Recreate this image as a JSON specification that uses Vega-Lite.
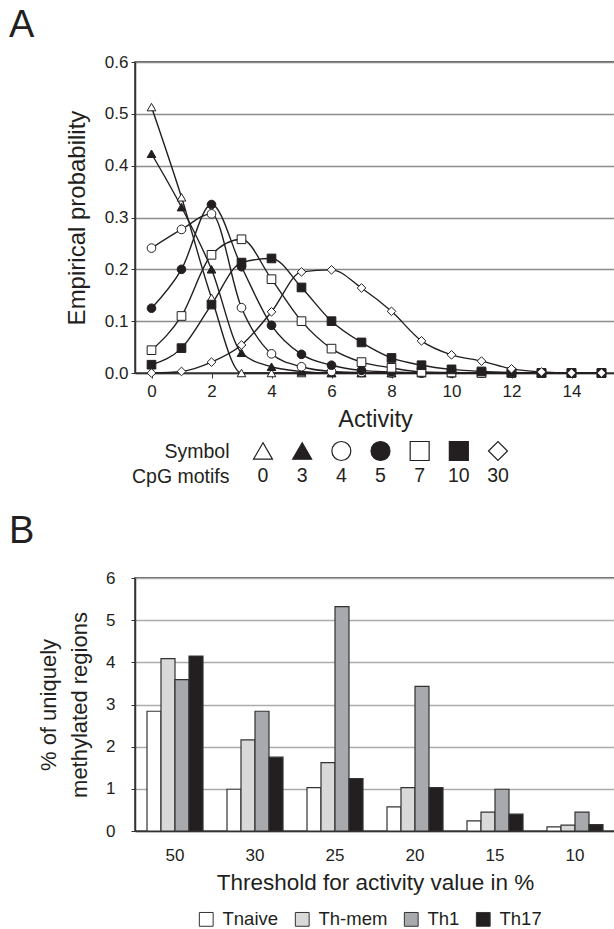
{
  "$schema": "https://vega.github.io/schema/vega-lite/v6.json",
  "padding": {"left": 8, "top": 6, "right": 0, "bottom": 0},
  "spacing": 5,
  "background": "white",
  "config": {
    "font": "Liberation Sans",
    "view": {"stroke": "#333333", "strokeWidth": 1.5},
    "axis": {
      "labelFont": "Liberation Sans",
      "titleFont": "Liberation Sans",
      "labelColor": "#231f20",
      "titleColor": "#231f20",
      "titleFontWeight": "normal",
      "domainColor": "#333333",
      "tickColor": "#333333",
      "domainWidth": 1.5
    },
    "title": {"font": "Liberation Sans", "fontWeight": "normal", "color": "#231f20"},
    "legend": {"labelFont": "Liberation Sans", "labelColor": "#231f20"}
  },
  "datasets": {
    "probs": [
      {"cpg": "0", "activity": 0, "p": 0.513}, {"cpg": "0", "activity": 1, "p": 0.339}, {"cpg": "0", "activity": 2, "p": 0.145}, {"cpg": "0", "activity": 3, "p": 0}, {"cpg": "0", "activity": 4, "p": 0}, {"cpg": "0", "activity": 5, "p": 0}, {"cpg": "0", "activity": 6, "p": 0}, {"cpg": "0", "activity": 7, "p": 0}, {"cpg": "0", "activity": 8, "p": 0}, {"cpg": "0", "activity": 9, "p": 0}, {"cpg": "0", "activity": 10, "p": 0}, {"cpg": "0", "activity": 11, "p": 0}, {"cpg": "0", "activity": 12, "p": 0}, {"cpg": "0", "activity": 13, "p": 0}, {"cpg": "0", "activity": 14, "p": 0}, {"cpg": "0", "activity": 15, "p": 0},
      {"cpg": "3", "activity": 0, "p": 0.423}, {"cpg": "3", "activity": 1, "p": 0.32}, {"cpg": "3", "activity": 2, "p": 0.2}, {"cpg": "3", "activity": 3, "p": 0.039}, {"cpg": "3", "activity": 4, "p": 0.012}, {"cpg": "3", "activity": 5, "p": 0.003}, {"cpg": "3", "activity": 6, "p": 0}, {"cpg": "3", "activity": 7, "p": 0}, {"cpg": "3", "activity": 8, "p": 0}, {"cpg": "3", "activity": 9, "p": 0}, {"cpg": "3", "activity": 10, "p": 0}, {"cpg": "3", "activity": 11, "p": 0}, {"cpg": "3", "activity": 12, "p": 0}, {"cpg": "3", "activity": 13, "p": 0}, {"cpg": "3", "activity": 14, "p": 0}, {"cpg": "3", "activity": 15, "p": 0},
      {"cpg": "4", "activity": 0, "p": 0.241}, {"cpg": "4", "activity": 1, "p": 0.277}, {"cpg": "4", "activity": 2, "p": 0.307}, {"cpg": "4", "activity": 3, "p": 0.126}, {"cpg": "4", "activity": 4, "p": 0.037}, {"cpg": "4", "activity": 5, "p": 0.012}, {"cpg": "4", "activity": 6, "p": 0.003}, {"cpg": "4", "activity": 7, "p": 0.001}, {"cpg": "4", "activity": 8, "p": 0}, {"cpg": "4", "activity": 9, "p": 0}, {"cpg": "4", "activity": 10, "p": 0}, {"cpg": "4", "activity": 11, "p": 0}, {"cpg": "4", "activity": 12, "p": 0}, {"cpg": "4", "activity": 13, "p": 0}, {"cpg": "4", "activity": 14, "p": 0}, {"cpg": "4", "activity": 15, "p": 0},
      {"cpg": "5", "activity": 0, "p": 0.125}, {"cpg": "5", "activity": 1, "p": 0.2}, {"cpg": "5", "activity": 2, "p": 0.325}, {"cpg": "5", "activity": 3, "p": 0.205}, {"cpg": "5", "activity": 4, "p": 0.092}, {"cpg": "5", "activity": 5, "p": 0.036}, {"cpg": "5", "activity": 6, "p": 0.015}, {"cpg": "5", "activity": 7, "p": 0.005}, {"cpg": "5", "activity": 8, "p": 0.002}, {"cpg": "5", "activity": 9, "p": 0}, {"cpg": "5", "activity": 10, "p": 0}, {"cpg": "5", "activity": 11, "p": 0}, {"cpg": "5", "activity": 12, "p": 0}, {"cpg": "5", "activity": 13, "p": 0}, {"cpg": "5", "activity": 14, "p": 0}, {"cpg": "5", "activity": 15, "p": 0},
      {"cpg": "7", "activity": 0, "p": 0.044}, {"cpg": "7", "activity": 1, "p": 0.11}, {"cpg": "7", "activity": 2, "p": 0.228}, {"cpg": "7", "activity": 3, "p": 0.258}, {"cpg": "7", "activity": 4, "p": 0.181}, {"cpg": "7", "activity": 5, "p": 0.1}, {"cpg": "7", "activity": 6, "p": 0.047}, {"cpg": "7", "activity": 7, "p": 0.021}, {"cpg": "7", "activity": 8, "p": 0.01}, {"cpg": "7", "activity": 9, "p": 0.002}, {"cpg": "7", "activity": 10, "p": 0.001}, {"cpg": "7", "activity": 11, "p": 0}, {"cpg": "7", "activity": 12, "p": 0}, {"cpg": "7", "activity": 13, "p": 0}, {"cpg": "7", "activity": 14, "p": 0}, {"cpg": "7", "activity": 15, "p": 0},
      {"cpg": "10", "activity": 0, "p": 0.016}, {"cpg": "10", "activity": 1, "p": 0.048}, {"cpg": "10", "activity": 2, "p": 0.132}, {"cpg": "10", "activity": 3, "p": 0.213}, {"cpg": "10", "activity": 4, "p": 0.221}, {"cpg": "10", "activity": 5, "p": 0.165}, {"cpg": "10", "activity": 6, "p": 0.1}, {"cpg": "10", "activity": 7, "p": 0.059}, {"cpg": "10", "activity": 8, "p": 0.029}, {"cpg": "10", "activity": 9, "p": 0.015}, {"cpg": "10", "activity": 10, "p": 0.007}, {"cpg": "10", "activity": 11, "p": 0.003}, {"cpg": "10", "activity": 12, "p": 0.001}, {"cpg": "10", "activity": 13, "p": 0}, {"cpg": "10", "activity": 14, "p": 0}, {"cpg": "10", "activity": 15, "p": 0},
      {"cpg": "30", "activity": 0, "p": 0}, {"cpg": "30", "activity": 1, "p": 0.003}, {"cpg": "30", "activity": 2, "p": 0.021}, {"cpg": "30", "activity": 3, "p": 0.054}, {"cpg": "30", "activity": 4, "p": 0.118}, {"cpg": "30", "activity": 5, "p": 0.195}, {"cpg": "30", "activity": 6, "p": 0.199}, {"cpg": "30", "activity": 7, "p": 0.164}, {"cpg": "30", "activity": 8, "p": 0.119}, {"cpg": "30", "activity": 9, "p": 0.062}, {"cpg": "30", "activity": 10, "p": 0.035}, {"cpg": "30", "activity": 11, "p": 0.023}, {"cpg": "30", "activity": 12, "p": 0.008}, {"cpg": "30", "activity": 13, "p": 0.002}, {"cpg": "30", "activity": 14, "p": 0}, {"cpg": "30", "activity": 15, "p": 0}
    ],
    "symbols": [
      {"cpg": "0"}, {"cpg": "3"}, {"cpg": "4"}, {"cpg": "5"}, {"cpg": "7"}, {"cpg": "10"}, {"cpg": "30"}
    ],
    "regions": [
      {"threshold": "50", "cell": "Tnaive", "pct": 2.84}, {"threshold": "50", "cell": "Th-mem", "pct": 4.09}, {"threshold": "50", "cell": "Th1", "pct": 3.59}, {"threshold": "50", "cell": "Th17", "pct": 4.15},
      {"threshold": "30", "cell": "Tnaive", "pct": 0.99}, {"threshold": "30", "cell": "Th-mem", "pct": 2.16}, {"threshold": "30", "cell": "Th1", "pct": 2.84}, {"threshold": "30", "cell": "Th17", "pct": 1.75},
      {"threshold": "25", "cell": "Tnaive", "pct": 1.03}, {"threshold": "25", "cell": "Th-mem", "pct": 1.62}, {"threshold": "25", "cell": "Th1", "pct": 5.32}, {"threshold": "25", "cell": "Th17", "pct": 1.24},
      {"threshold": "20", "cell": "Tnaive", "pct": 0.57}, {"threshold": "20", "cell": "Th-mem", "pct": 1.03}, {"threshold": "20", "cell": "Th1", "pct": 3.43}, {"threshold": "20", "cell": "Th17", "pct": 1.03},
      {"threshold": "15", "cell": "Tnaive", "pct": 0.24}, {"threshold": "15", "cell": "Th-mem", "pct": 0.45}, {"threshold": "15", "cell": "Th1", "pct": 0.99}, {"threshold": "15", "cell": "Th17", "pct": 0.4},
      {"threshold": "10", "cell": "Tnaive", "pct": 0.1}, {"threshold": "10", "cell": "Th-mem", "pct": 0.14}, {"threshold": "10", "cell": "Th1", "pct": 0.45}, {"threshold": "10", "cell": "Th17", "pct": 0.15}
    ]
  },
  "vconcat": [
    {
      "width": 480,
      "height": 311,
      "title": {"text": "A", "anchor": "start", "frame": "group", "fontSize": 38, "dx": -126, "offset": -22, "baseline": "alphabetic"},
      "data": {"name": "probs"},
      "layer": [
        {
          "mark": {"type": "line", "interpolate": "monotone", "color": "#231f20", "strokeWidth": 1.4},
          "encoding": {
            "x": {
              "field": "activity", "type": "quantitative",
              "scale": {"domain": [-0.55, 15.45], "nice": false, "zero": false},
              "axis": {
                "values": [0, 1, 2, 3, 4, 5, 6, 7, 8, 9, 10, 11, 12, 13, 14, 15],
                "labelExpr": "datum.value % 2 === 0 ? datum.label : ''",
                "labelOverlap": false, "format": "d", "grid": false,
                "tickSize": 5, "labelPadding": 5, "labelFontSize": 17,
                "title": "Activity", "titleFontSize": 23.5, "titlePadding": 8
              }
            },
            "y": {
              "field": "p", "type": "quantitative",
              "scale": {"domain": [0, 0.6], "nice": false},
              "axis": {
                "values": [0, 0.1, 0.2, 0.3, 0.4, 0.5, 0.6], "format": ".1f",
                "grid": true, "gridColor": "#8c8c8c", "gridWidth": 1.5,
                "tickSize": 4, "labelPadding": 3, "labelFontSize": 17,
                "title": "Empirical probability", "titleFontSize": 24, "titlePadding": 15
              }
            },
            "detail": {"field": "cpg", "type": "nominal"},
            "order": {"field": "activity", "type": "quantitative"}
          }
        },
        {
          "mark": {"type": "point", "filled": true, "size": 75, "stroke": "#231f20", "strokeWidth": 1, "opacity": 1},
          "encoding": {
            "x": {"field": "activity", "type": "quantitative"},
            "y": {"field": "p", "type": "quantitative"},
            "shape": {
              "field": "cpg", "type": "nominal",
              "scale": {"domain": ["0", "3", "4", "5", "7", "10", "30"], "range": ["triangle-up", "triangle-up", "circle", "circle", "square", "square", "diamond"]},
              "legend": null
            },
            "fill": {
              "field": "cpg", "type": "nominal",
              "scale": {"domain": ["0", "3", "4", "5", "7", "10", "30"], "range": ["#ffffff", "#231f20", "#ffffff", "#231f20", "#ffffff", "#231f20", "#ffffff"]},
              "legend": null
            }
          }
        }
      ]
    },
    {
      "width": 480,
      "height": 70,
      "view": {"stroke": null},
      "data": {"name": "symbols"},
      "layer": [
        {
          "mark": {"type": "point", "filled": true, "size": 360, "stroke": "#231f20", "strokeWidth": 1.2, "opacity": 1},
          "encoding": {
            "x": {
              "field": "cpg", "type": "ordinal",
              "scale": {"type": "point", "domain": ["0", "3", "4", "5", "7", "10", "30"], "range": [128, 363], "padding": 0},
              "axis": null
            },
            "y": {
              "datum": "Symbol", "type": "nominal",
              "scale": {"type": "point", "domain": ["Symbol", "CpG motifs"], "range": [14, 39], "padding": 0},
              "axis": {"title": null, "domain": false, "ticks": false, "grid": false, "labelFontSize": 19.5, "labelPadding": 4, "offset": -98}
            },
            "shape": {
              "field": "cpg", "type": "nominal",
              "scale": {"domain": ["0", "3", "4", "5", "7", "10", "30"], "range": ["triangle-up", "triangle-up", "circle", "circle", "square", "square", "diamond"]},
              "legend": null
            },
            "fill": {
              "field": "cpg", "type": "nominal",
              "scale": {"domain": ["0", "3", "4", "5", "7", "10", "30"], "range": ["#ffffff", "#231f20", "#ffffff", "#231f20", "#ffffff", "#231f20", "#ffffff"]},
              "legend": null
            }
          }
        },
        {
          "mark": {"type": "text", "fontSize": 19.5, "color": "#231f20"},
          "encoding": {
            "x": {"field": "cpg", "type": "ordinal"},
            "y": {"datum": "CpG motifs", "type": "nominal"},
            "text": {"field": "cpg", "type": "nominal"}
          }
        }
      ]
    },
    {
      "width": 480,
      "height": 253,
      "title": {"text": "B", "anchor": "start", "frame": "group", "fontSize": 38, "dx": -126, "offset": -12, "baseline": "alphabetic"},
      "data": {"name": "regions"},
      "mark": {"type": "bar", "stroke": "#333333", "strokeWidth": 1.2},
      "encoding": {
        "x": {
          "field": "threshold", "type": "nominal",
          "sort": ["50", "30", "25", "20", "15", "10"],
          "scale": {"paddingInner": 0.3, "paddingOuter": 0.15},
          "axis": {
            "labelAngle": 0, "ticks": false, "labelPadding": 16, "labelFontSize": 17,
            "title": "Threshold for activity value in %", "titleFontSize": 22.5, "titlePadding": 8
          }
        },
        "xOffset": {
          "field": "cell", "type": "nominal",
          "sort": ["Tnaive", "Th-mem", "Th1", "Th17"],
          "scale": {"paddingInner": 0, "paddingOuter": 0}
        },
        "y": {
          "field": "pct", "type": "quantitative",
          "scale": {"domain": [0, 6], "nice": false},
          "axis": {
            "values": [0, 1, 2, 3, 4, 5, 6], "format": "d",
            "grid": true, "gridColor": "#acacac", "gridWidth": 1.5,
            "tickSize": 4, "labelPadding": 16, "labelFontSize": 17,
            "title": ["% of uniquely", "methylated regions"], "titleFontSize": 22,
            "titleLineHeight": 31, "titlePadding": 14
          }
        },
        "color": {
          "field": "cell", "type": "nominal",
          "sort": ["Tnaive", "Th-mem", "Th1", "Th17"],
          "scale": {"domain": ["Tnaive", "Th-mem", "Th1", "Th17"], "range": ["#ffffff", "#d9d9d9", "#a7a9ac", "#231f20"]},
          "legend": {
            "orient": "none", "direction": "horizontal", "legendX": 62, "legendY": 848,
            "title": null, "symbolType": "square", "symbolSize": 190,
            "symbolStrokeColor": "#333333", "symbolStrokeWidth": 1, "symbolOpacity": 1,
            "labelFontSize": 18.5, "labelOffset": 7, "columnPadding": 14
          }
        },
        "opacity": {"value": 1}
      }
    }
  ]
}
